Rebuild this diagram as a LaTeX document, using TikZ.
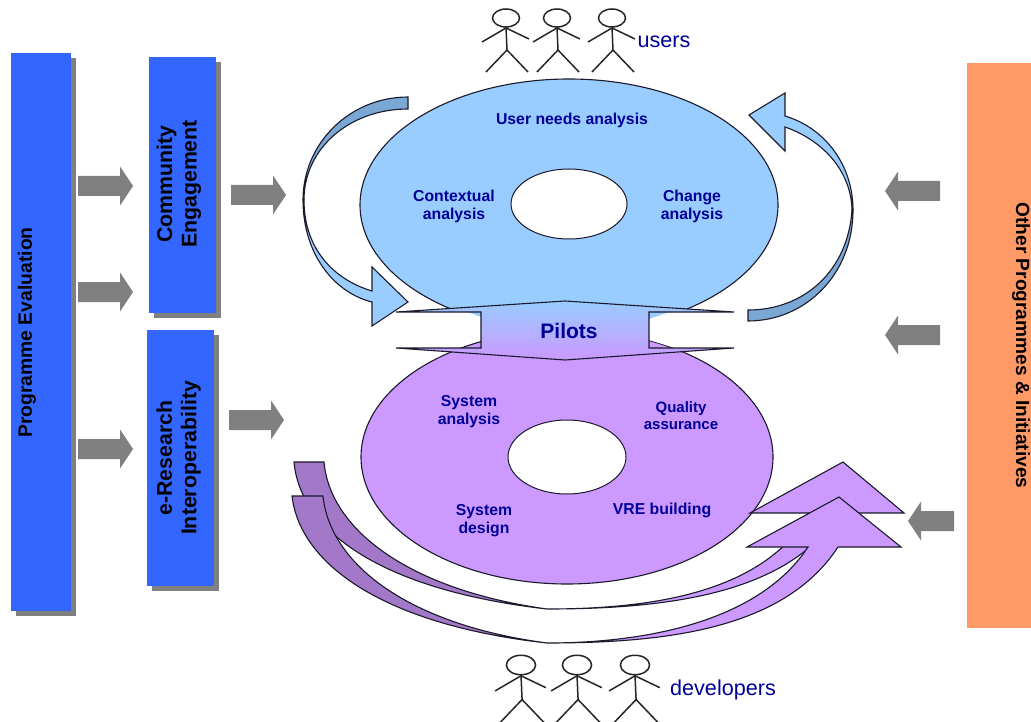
\documentclass[tikz,border=0pt]{standalone}
\usepackage{fontspec}
\setmainfont{Liberation Sans}
\usetikzlibrary{shapes.geometric}
\definecolor{lblue}{HTML}{99CCFF}
\definecolor{dblue}{HTML}{7BA7D4}
\definecolor{lpurp}{HTML}{CC99FF}
\definecolor{dpurp}{HTML}{A378C8}
\definecolor{txt}{HTML}{000099}
\definecolor{block}{HTML}{3366FF}
\definecolor{orng}{HTML}{FF9966}
\definecolor{arrowgrey}{HTML}{808080}
\definecolor{edge}{HTML}{1A1A2A}
\tikzset{
  blockbox/.style={fill=block,draw=none,inner sep=0pt},
  blocktext/.style={text=black,inner sep=0pt,align=center,font=\fontsize{21.3}{24.5}\selectfont\bfseries},
  shadowbox/.style={fill=arrowgrey,draw=none},
  disc/.style={ellipse,draw=edge,line width=1.1pt,inner sep=0pt},
  hole/.style={ellipse,draw=edge,line width=1pt,fill=white,inner sep=0pt},
  lab/.style={text=txt,align=center,inner sep=0pt,font=\fontsize{15.8}{18}\selectfont\bfseries},
  plain/.style={text=txt,inner sep=0pt,font=\fontsize{21.6}{24}\selectfont},
  band/.style={draw=edge,line width=1.1pt,line join=miter},
  stick/.style={draw=black!85,line width=1.5pt},
}
% #1 tail x, #2 y, #3 direction (+1 right, -1 left), #4 shaft length
\newcommand{\greyarrow}[4]{%
  \fill[arrowgrey] (#1,#2-10) -- ++(#3*#4,0) -- ++(0,-9.5) -- ++(#3*13,19.5) -- ++(#3*-13,19.5) -- ++(0,-9.5) -- ++(#3*-#4,0) -- cycle;}
% #1 head x, #2 head y, #3 scale
\newcommand{\stickman}[3]{%
  \begin{scope}[shift={(#1,#2)},xscale=#3,yscale=#3]
    \path[stick] (0,0) circle [x radius=13.5pt,y radius=9pt];
    \path[stick] (0,9) -- (1,32) -- (-20,54);
    \path[stick] (1,32) -- (22,54);
    \path[stick] (-24,24) -- (0,10) -- (23,21);
  \end{scope}}
\begin{document}
\begin{tikzpicture}[x=1pt,y=-1pt]
\useasboundingbox (0,0) rectangle (1031,722);
\fill[white] (0,0) rectangle (1031,722);
% side blocks
\fill[shadowbox] (16,58) rectangle (76,616);
\node[blockbox,rotate=90,minimum width=558pt,minimum height=60pt] (eval) at (41,332) {};
\node[blocktext,rotate=90,font=\fontsize{19.3}{22}\selectfont\bfseries] (evallab) at (27,332.5) {Programme Evaluation};
\fill[shadowbox] (154,62) rectangle (221,318);
\node[blockbox,rotate=90,minimum width=256pt,minimum height=67pt] (comm) at (182.5,185) {};
\node[blocktext,rotate=90] (commlab) at (179,184) {Community\\Engagement};
\fill[shadowbox] (152,335) rectangle (219,591);
\node[blockbox,rotate=90,minimum width=256pt,minimum height=67pt] (eres) at (180.5,458) {};
\node[blocktext,rotate=90] (ereslab) at (178.5,458) {e-Research\\Interoperability};
\node[fill=orng,minimum width=565pt,minimum height=64pt,rotate=-90,inner sep=0pt] (other) at (999,345.5) {};
\node[blocktext,rotate=-90,font=\fontsize{19.1}{22}\selectfont\bfseries] (otherlab) at (1021,345.5) {Other Programmes \& Initiatives};
% grey arrows
\greyarrow{78}{186}{1}{42}
\greyarrow{78}{292}{1}{42}
\greyarrow{78}{449}{1}{42}
\greyarrow{231}{195}{1}{42}
\greyarrow{229}{420}{1}{42}
\greyarrow{940}{191}{-1}{42}
\greyarrow{940}{335}{-1}{42}
\greyarrow{954}{521}{-1}{33}
% discs
\node[disc,fill=lblue,minimum width=418pt,minimum height=252pt] (top) at (569,205) {};
\node[hole,minimum width=116pt,minimum height=70pt] (tophole) at (569,204) {};
\node[disc,fill=lpurp,minimum width=412pt,minimum height=254pt] (bot) at (567,457) {};
\node[hole,minimum width=118pt,minimum height=74pt] (bothole) at (567,457) {};
% top-left cycle arrow
\fill[dblue] (408,97) .. controls (350,97) and (303,143) .. (303,200) -- (304,200) .. controls (304,148) and (350,109) .. (408,109) -- cycle;
\draw[band] (304,200) .. controls (304,148) and (350,109) .. (408,109) -- (408,97) .. controls (350,97) and (303,143) .. (303,200);
\path[band,fill=lblue] (303,200) .. controls (303,255) and (335,293) .. (372,302) -- (372,326) -- (408,302) -- (372,267) -- (372,291) .. controls (335,280) and (304,250) .. (304,200) -- cycle;
% top-right cycle arrow
\path[band,fill=lblue] (853,210) .. controls (853,165) and (825,128) .. (785,116) -- (785,93) -- (749,115) -- (785,151) -- (785,127) .. controls (822,140) and (851,170) .. (852,210) -- cycle;
\path[band,fill=dblue] (853,210) .. controls (853,275) and (805,321) .. (748,321) -- (748,310) .. controls (805,310) and (848,270) .. (852,210) -- cycle;
% pilots
\fill[white] (396,312) -- (467,312) -- (481,317) -- (481,340) -- (458,348) -- (396,348) -- cycle;
\fill[white] (734,312) -- (670,312) -- (649,319) -- (649,340) -- (675,348) -- (734,348) -- cycle;
\shadedraw[band,top color=lblue,bottom color=lpurp] (565,301) -- (734,312) -- (649,312) -- (649,348) -- (734,348) -- (565,360) -- (396,348) -- (481,348) -- (481,312) -- (396,312) -- cycle;
% lower arrows: upper one
\path[band,fill=lpurp] (547,609) .. controls (660,609) and (765,590) .. (810,513) -- (750,513) -- (843,462) -- (904,513) -- (840,513) .. controls (790,590) and (680,609) .. (547,609) -- cycle;
\path[band,fill=dpurp] (294,462) .. controls (300,530) and (380,590) .. (547,609) .. controls (410,590) and (330,530) .. (324,462) -- cycle;
% lower arrows: lower one
\path[band,fill=lpurp] (547,643) .. controls (650,643) and (760,620) .. (808,547) -- (747,547) -- (839,497) -- (901,547) -- (838,547) .. controls (785,628) and (670,643) .. (547,643) -- cycle;
\path[band,fill=dpurp] (292,496) .. controls (300,565) and (385,625) .. (547,643) .. controls (410,625) and (330,565) .. (323,496) -- cycle;
% labels
\node[lab] (l1) at (572,120) {User needs analysis};
\node[lab] (l2) at (454,206.5) {Contextual\\analysis};
\node[lab] (l3) at (692,206.5) {Change\\analysis};
\node[text=txt,inner sep=0pt,font=\fontsize{21}{24}\selectfont\bfseries] (pil) at (569,331) {Pilots};
\node[lab] (l4) at (469,411.5) {System\\analysis};
\node[lab,font=\fontsize{15}{17.5}\selectfont\bfseries] (l5) at (681,415.5) {Quality\\assurance};
\node[lab] (l6) at (484,520.5) {System\\design};
\node[lab] (l7) at (662,510) {VRE building};
\node[plain] (users) at (664,42) {users};
\node[plain] (devs) at (723,690) {developers};
% people
\stickman{506}{18}{1}
\stickman{557}{18}{1}
\stickman{612}{18}{1}
\stickman{521}{665}{1.08}
\stickman{577}{665}{1.08}
\stickman{635}{665}{1.08}
\end{tikzpicture}
\end{document}
